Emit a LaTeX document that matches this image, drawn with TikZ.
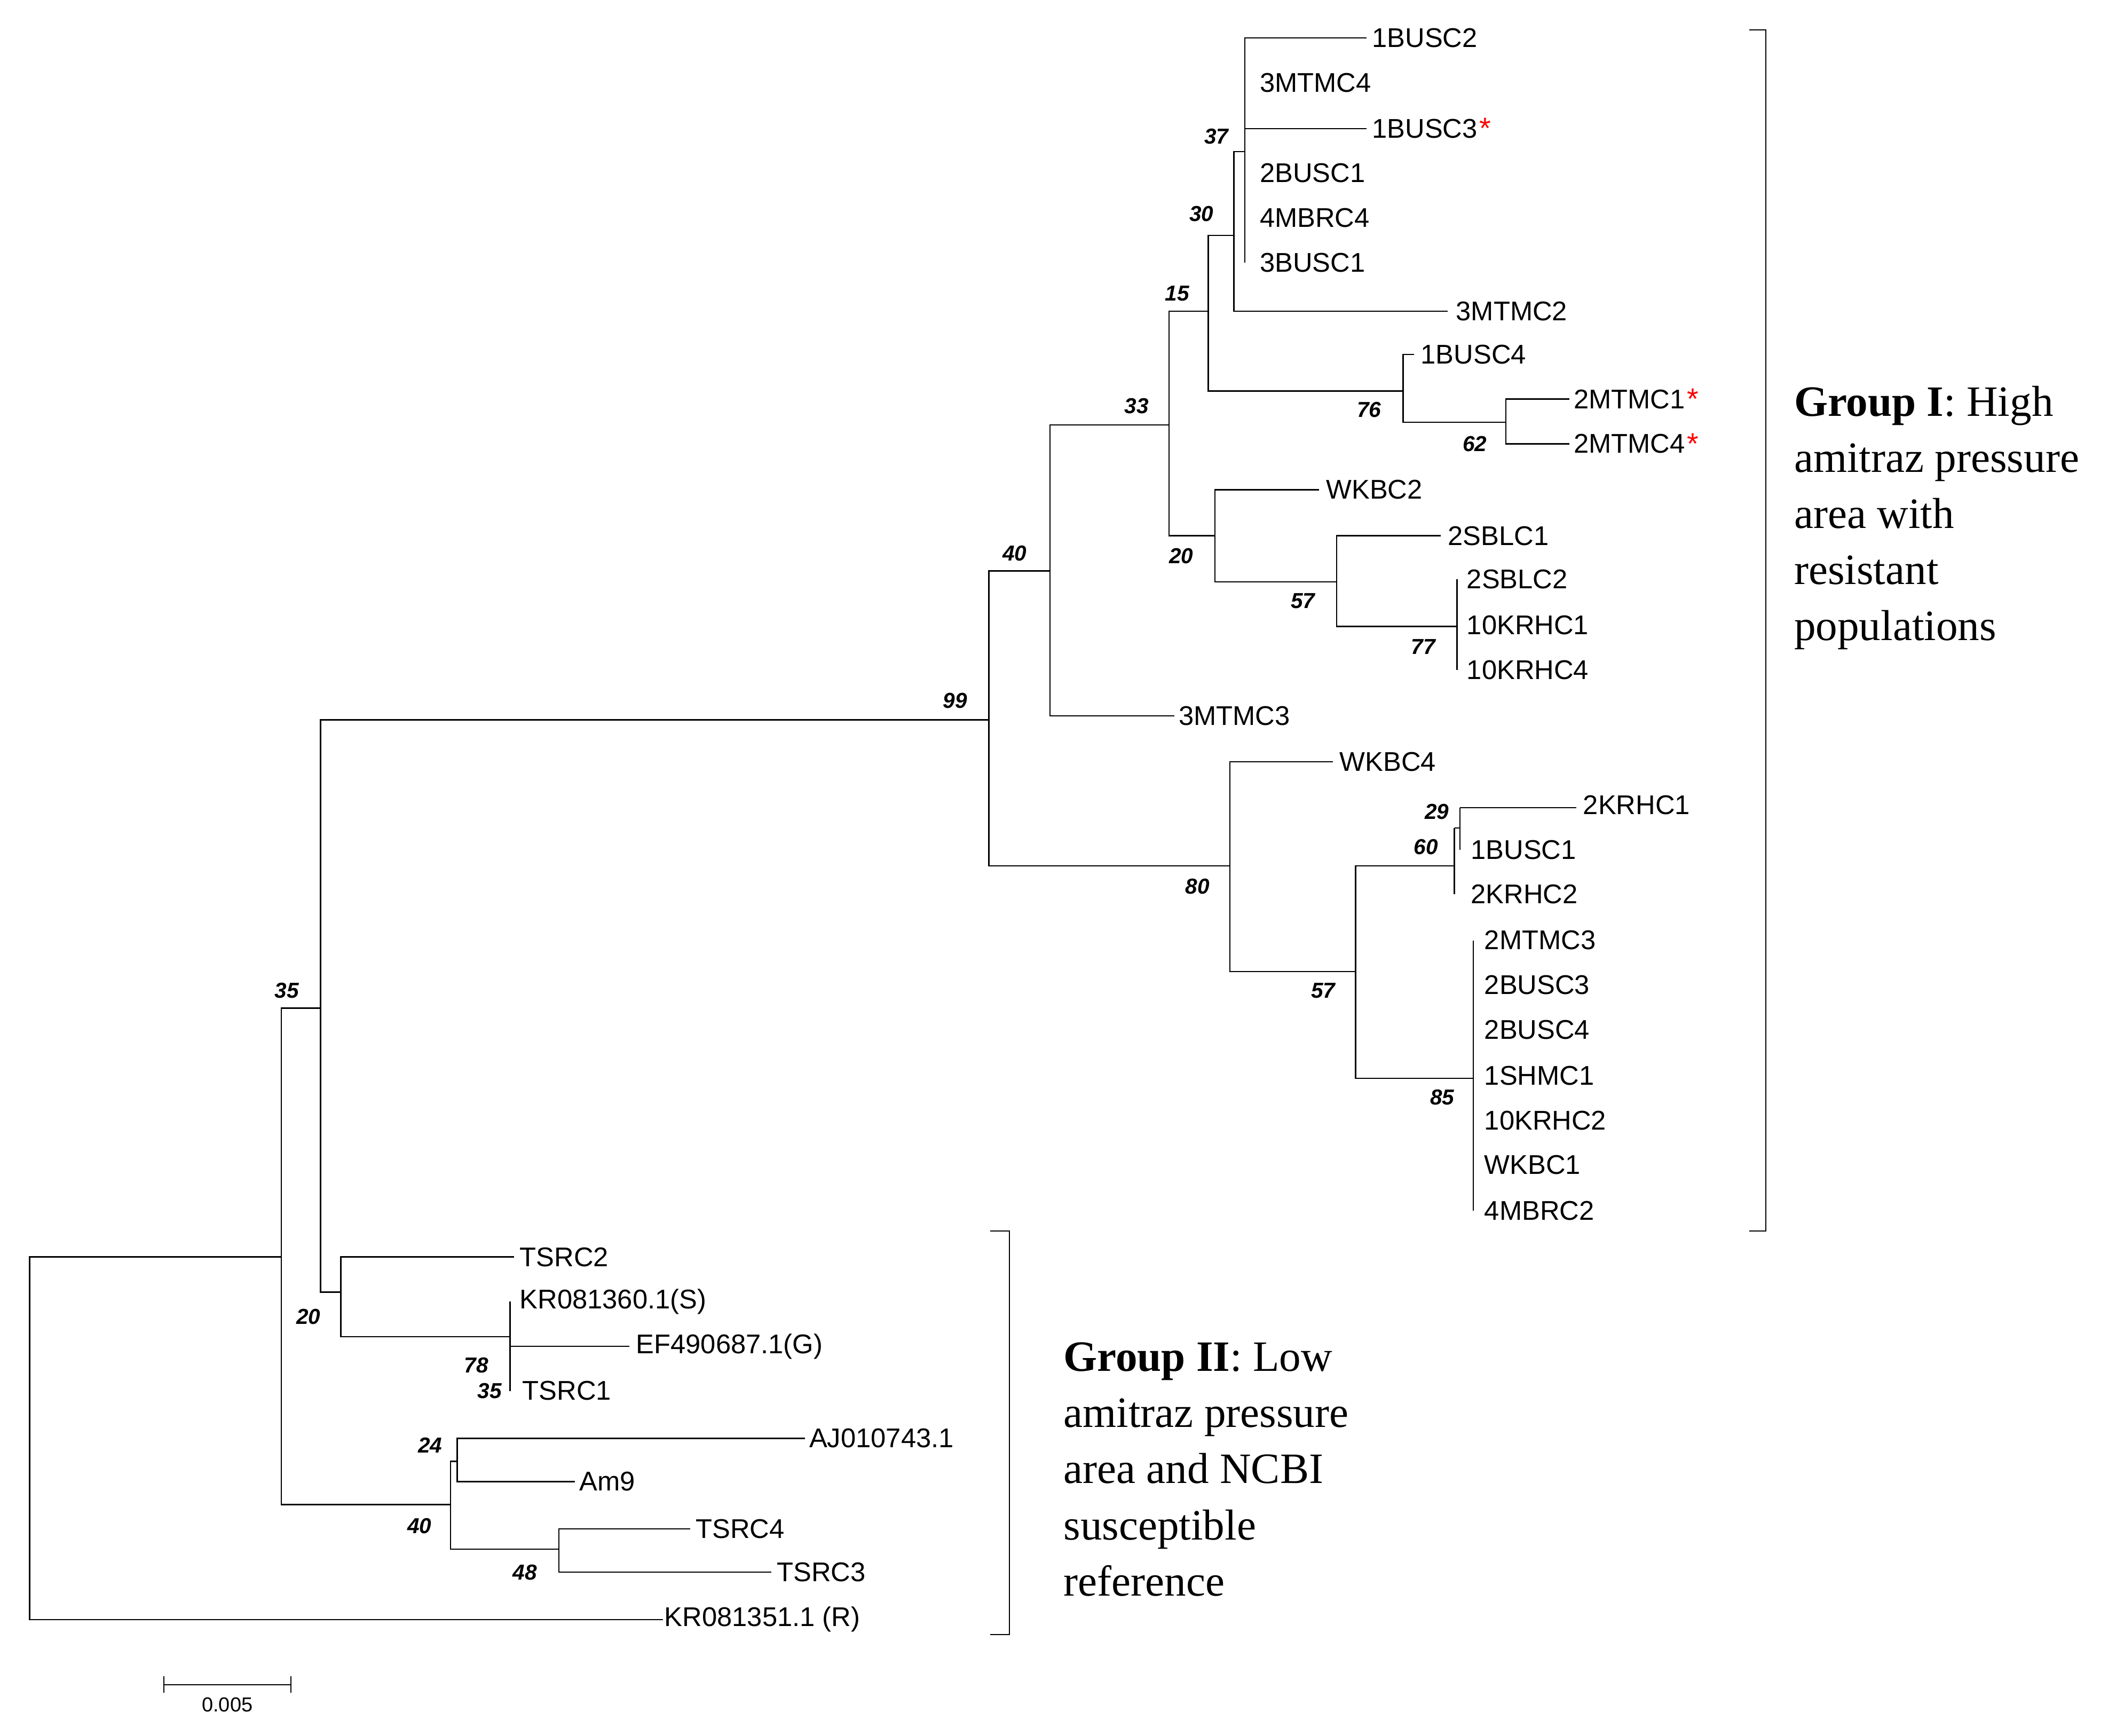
\documentclass[tikz,border=0pt]{standalone}
\usepackage{fontspec}
\setmainfont{Liberation Sans}
\newfontfamily\serifgrp{Liberation Serif}
\begin{document}
\begin{tikzpicture}[x=1pt,y=-1pt,
 br/.style={line width=1pt,black},
 lab/.style={anchor=west,font=\fontsize{20}{20}\selectfont,inner sep=1pt},
 bs/.style={font=\fontsize{16}{16}\selectfont\bfseries\itshape,inner sep=0pt},
 grp/.style={anchor=north west,align=left,font=\fontsize{32}{41.5}\serifgrp,inner sep=0pt},
 ast/.style={text=red,font=\fontsize{22}{22}\selectfont,inner sep=0pt,anchor=west}]
\useasboundingbox (0,0) rectangle (1564,1283);
% root
\draw[br] (208,929) -| (22,1197) -- (490,1197);
\node[lab] (R) at (490,1197) {KR081351.1 (R)};
\draw[br] (237,745) -| (208,1112) -- (333,1112);
\node[bs] at (212,732) {35};
% node 237
\draw[br] (731,532) -| (237,955) -- (252,955);
\node[bs] at (228,973) {20};
\draw[br] (380,929) -| (252,988) -- (377,988);
\node[lab] at (383,929) {TSRC2};
\draw[br] (377,962) -- (377,1028);
\draw[br] (377,995) -- (465,995);
\node[lab] at (383,962) {KR081360.1(S)};
\node[lab] at (469,995) {EF490687.1(G)};
\node[lab] at (385,1028) {TSRC1};
\node[bs] at (352,1009) {78};
\node[bs] at (362,1028) {35};
% node 333
\draw[br] (338,1080) -| (333,1145) -- (413,1145);
\node[bs] at (310,1128) {40};
\draw[br] (595,1063) -| (338,1095) -- (425,1095);
\node[bs] at (318,1068) {24};
\node[lab] at (597,1063) {AJ010743.1};
\node[lab] at (427,1095) {Am9};
\draw[br] (510,1130) -| (413,1162) -- (570,1162);
\node[bs] at (388,1162) {48};
\node[lab] at (513,1130) {TSRC4};
\node[lab] at (573,1162) {TSRC3};
% node 731
\node[bs] at (706,518) {99};
\draw[br] (776,422) -| (731,640) -- (909,640);
\draw[br] (864,314) -| (776,529) -- (868,529);
\node[bs] at (750,409) {40};
\node[lab] at (870,529) {3MTMC3};
\draw[br] (893,230) -| (864,396) -- (898,396);
\node[bs] at (840,300) {33};
\draw[br] (912,174) -| (893,289) -- (1037,289);
\node[bs] at (870,217) {15};
\draw[br] (920,112) -| (912,230) -- (1070,230);
\node[bs] at (888,158) {30};
\node[lab] at (1075,230) {3MTMC2};
\draw[br] (1010,28) -| (920,194);
\draw[br] (920,95) -- (1010,95);
\node[bs] at (899,101) {37};
\node[lab] (a1) at (1013,28) {1BUSC2};
\node[lab] at (930,61) {3MTMC4};
\node[lab] (b3) at (1013,95) {1BUSC3};
\node[ast] at (b3.east) {*};
\node[lab] at (930,128) {2BUSC1};
\node[lab] at (930,161) {4MBRC4};
\node[lab] at (930,194) {3BUSC1};
\draw[br] (1045,262) -| (1037,312) -- (1113,312);
\node[bs] at (1012,303) {76};
\node[lab] at (1049,262) {1BUSC4};
\draw[br] (1160,295) -| (1113,328) -- (1160,328);
\node[bs] at (1090,328) {62};
\node[lab] (m1) at (1162,295) {2MTMC1};
\node[ast] at (m1.east) {*};
\node[lab] (m4) at (1162,328) {2MTMC4};
\node[ast] at (m4.east) {*};
\draw[br] (975,362) -| (898,430) -- (988,430);
\node[bs] at (873,411) {20};
\node[lab] at (979,362) {WKBC2};
\draw[br] (1065,396) -| (988,463) -- (1077,463);
\node[bs] at (963,444) {57};
\node[lab] at (1069,396) {2SBLC1};
\draw[br] (1077,428) -- (1077,495);
\node[bs] at (1052,478) {77};
\node[lab] at (1083,428) {2SBLC2};
\node[lab] at (1083,462) {10KRHC1};
\node[lab] at (1083,495) {10KRHC4};
\draw[br] (985,563) -| (909,718) -- (1002,718);
\node[bs] at (885,655) {80};
\node[lab] at (989,563) {WKBC4};
\draw[br] (1075,640) -| (1002,797) -- (1089,797);
\node[bs] at (978,732) {57};
\draw[br] (1075,612) -- (1075,661);
\draw[br] (1075,612) -- (1079,612);
\node[bs] at (1054,626) {60};
\draw[br] (1079,597) -- (1079,628);
\draw[br] (1079,597) -- (1165,597);
\node[bs] at (1062,600) {29};
\node[lab] at (1169,595) {2KRHC1};
\node[lab] at (1086,628) {1BUSC1};
\node[lab] at (1086,661) {2KRHC2};
\draw[br] (1089,695) -- (1089,895);
\node[bs] at (1066,811) {85};
\node[lab] at (1096,695) {2MTMC3};
\node[lab] at (1096,728) {2BUSC3};
\node[lab] at (1096,761) {2BUSC4};
\node[lab] at (1096,795) {1SHMC1};
\node[lab] at (1096,828) {10KRHC2};
\node[lab] at (1096,861) {WKBC1};
\node[lab] at (1096,895) {4MBRC2};
% brackets
\draw[line width=0.8pt] (1293,22) -- (1305,22) -- (1305,910) -- (1293,910);
\draw[line width=0.8pt] (732,910) -- (746,910) -- (746,1208) -- (732,1208);
\node[grp] at (1326,285) {\textbf{Group I}: High\\amitraz pressure\\area with\\resistant\\populations};
\node[grp] at (786,992) {\textbf{Group II}: Low\\amitraz pressure\\area and NCBI\\susceptible\\reference};
% scale
\draw[line width=0.8pt] (121,1239) -- (121,1251) (121,1245) -- (215,1245) (215,1239) -- (215,1251);
\node[font=\fontsize{15}{15}\selectfont] at (168,1260) {0.005};
\end{tikzpicture}
\end{document}
